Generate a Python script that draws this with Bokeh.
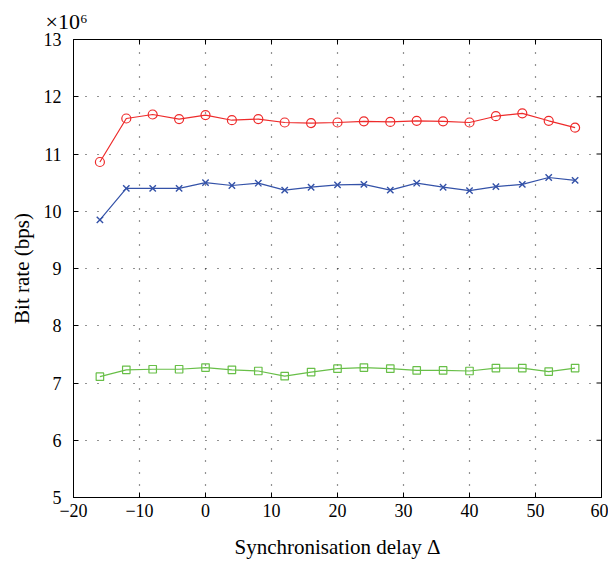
import math
from bokeh.plotting import figure
from bokeh.models import FixedTicker, Range1d
from bokeh.embed import file_html
from bokeh.resources import INLINE

# Data (bit rate in units of 10^6 bps)
delay = [-16, -12, -8, -4, 0, 4, 8, 12, 16, 20, 24, 28, 32, 36, 40, 44, 48, 52, 56]
red_rate = [10.86, 11.62, 11.69, 11.61, 11.68, 11.59, 11.61, 11.55, 11.54, 11.55,
            11.57, 11.56, 11.58, 11.57, 11.55, 11.66, 11.71, 11.58, 11.46]
blue_rate = [9.85, 10.40, 10.40, 10.40, 10.50, 10.45, 10.49, 10.37, 10.42, 10.46,
             10.47, 10.37, 10.49, 10.42, 10.36, 10.43, 10.47, 10.59, 10.54]
green_rate = [7.11, 7.23, 7.24, 7.24, 7.27, 7.23, 7.21, 7.12, 7.19, 7.25,
              7.27, 7.25, 7.22, 7.22, 7.21, 7.26, 7.26, 7.20, 7.26]

x_ticks = [-20, -10, 0, 10, 20, 30, 40, 50, 60]
y_ticks = [5, 6, 7, 8, 9, 10, 11, 12, 13]
x_label = "Synchronisation delay \u0394"
y_label = "Bit rate (bps)"
scale_text = "\u00d710\u2076"

RED = "#ee2b2b"
BLUE = "#3452a8"
GREEN = "#68bf48"
FONT = "Liberation Serif"

X_MIN, X_MAX = x_ticks[0], x_ticks[-1]
Y_MIN, Y_MAX = y_ticks[0], y_ticks[-1]

p = figure(width=608, height=562, x_range=Range1d(X_MIN, X_MAX), y_range=Range1d(Y_MIN, Y_MAX),
           output_backend="svg", toolbar_location=None,
           min_border_left=73, min_border_right=7, min_border_top=38, min_border_bottom=65)
p.outline_line_color = "black"
p.outline_line_width = 1
p.background_fill_color = "white"
p.border_fill_color = "white"

# title used as the x10^6 multiplier
p.title.text = scale_text
p.title.text_font = FONT
p.title.text_font_size = "22px"
p.title.text_font_style = "normal"
p.title.text_color = "black"
p.title.align = "left"
p.title.offset = -28
p.title.standoff = 12

# grids
for g in (p.xgrid, p.ygrid):
    g.grid_line_color = "black"
    g.grid_line_dash = "1 11"
    g.grid_line_width = 1.2
    g.grid_line_alpha = 0.85
p.xgrid.ticker = FixedTicker(ticks=x_ticks)
p.ygrid.ticker = FixedTicker(ticks=y_ticks)

x_over = {t: (("\u2212" + str(abs(t))) if t < 0 else str(t)) for t in x_ticks}
y_over = {t: str(t) for t in y_ticks}

xa = p.xaxis[0]
ya = p.yaxis[0]
for ax, ticks, over in ((xa, x_ticks, x_over), (ya, y_ticks, y_over)):
    ax.ticker = FixedTicker(ticks=ticks)
    ax.major_label_overrides = over
    ax.minor_tick_line_color = None
    ax.major_tick_in = 5
    ax.major_tick_out = 0
    ax.major_tick_line_color = "black"
    ax.axis_line_color = "black"
    ax.major_label_text_font = FONT
    ax.major_label_text_font_size = "18px"
    ax.major_label_text_color = "black"
    ax.axis_label_text_font = FONT
    ax.axis_label_text_font_style = "normal"
    ax.axis_label_text_font_size = "21px"
    ax.axis_label_text_color = "black"

xa.axis_label = x_label
ya.axis_label = y_label
xa.major_label_standoff = 6
ya.major_label_standoff = 12
xa.axis_label_standoff = 15
ya.axis_label_standoff = 7

# inward ticks on top and right edges of the box (half of each dash is clipped away)
p.scatter(x_ticks, [Y_MAX] * len(x_ticks), marker="dash", size=10, angle=math.pi / 2,
          line_color="black", line_width=1)
p.scatter([X_MAX] * len(y_ticks), y_ticks, marker="dash", size=10,
          line_color="black", line_width=1)

# series
p.line(delay, red_rate, line_color=RED, line_width=1.2)
p.scatter(delay, red_rate, marker="circle", size=9, fill_color=None, line_color=RED, line_width=1.2)
p.line(delay, blue_rate, line_color=BLUE, line_width=1.2)
p.scatter(delay, blue_rate, marker="x", size=9, line_color=BLUE, line_width=1.4)
p.line(delay, green_rate, line_color=GREEN, line_width=1.2)
p.scatter(delay, green_rate, marker="square", size=7.5, fill_color=None, line_color=GREEN, line_width=1.2)

open("out.html", "w").write(file_html(p, INLINE))
